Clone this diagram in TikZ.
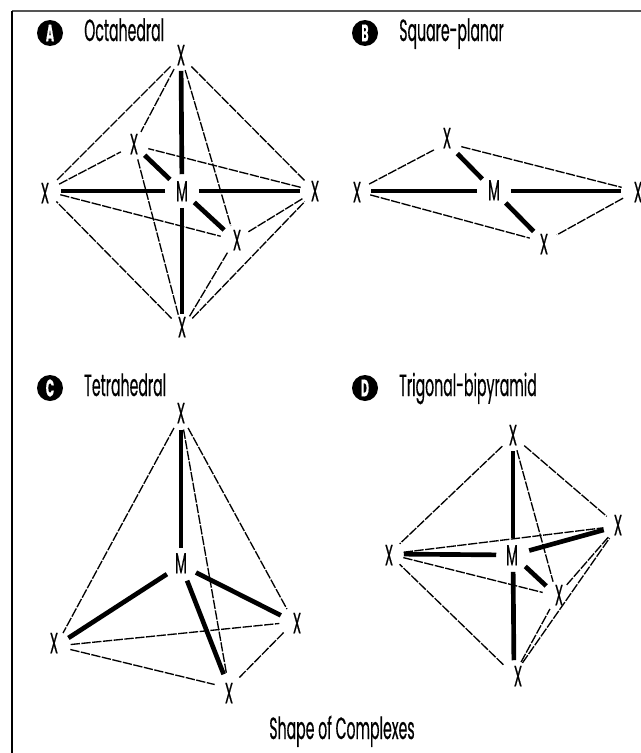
\documentclass[tikz,border=0pt]{standalone}
\usepackage{fontspec}
\setmainfont[FakeStretch=0.46,FakeBold=0.4]{Poppins}
\usepackage{xcolor}
\usetikzlibrary{positioning}
\definecolor{framegray}{RGB}{85,85,85}
\newlength\vunit
\setlength\vunit{0.75pt}
% label sits off the point where the lines meet (dx, dy in picture units)
\newcommand{\atom}[3]{\raisebox{\dimexpr-#3\vunit-6.3pt\relax}[0pt][0pt]{\makebox[0pt]{\hspace*{#2\vunit}\hspace*{#2\vunit}#1}}}
\tikzset{
  vertex/.style={circle, inner sep=0pt, minimum size=29\vunit},
  metal/.style={circle, inner sep=0pt, minimum size=33\vunit},
  bond/.style={line width=3.5pt},
  edge3d/.style={line width=1pt, dash pattern=on 7pt off 1.1pt},
  badge/.style={circle, fill=black, text=white, inner sep=0pt, minimum size=26\vunit, font=\fontsize{18}{18}\selectfont\bfseries},
  heading/.style={anchor=base west, inner sep=0pt, font=\fontsize{23}{24}\selectfont},
}
\begin{document}
\begin{tikzpicture}[x=0.75pt, y=-0.75pt, every node/.style={font=\fontsize{22}{24}\selectfont}]
  \useasboundingbox (0,0) rectangle (641,753);
  \draw[line width=1.5pt, framegray] (641,11) -- (12,11);
  \draw[line width=1.5pt] (12,11) -- (12,753);

  % A
  \node[badge] (badgeA) at (50,33) {A};
  \node[heading] (titleA) at (84,41) {Octahedral};
  \node[metal] (aM) at (182,191) {\atom{M}{0}{2}};
  \node[vertex] (aT) at (181,56) {\atom{X}{0}{1}};
  \node[vertex] (aL) at (46,191) {\atom{X}{-1}{4}};
  \node[vertex] (aR) at (315,191) {\atom{X}{0}{2}};
  \node[vertex] (aB) at (182,329) {\atom{X}{0}{0}};
  \node[vertex] (aK) at (134,145) {\atom{X}{0}{1}};
  \node[vertex] (aF) at (235,240) {\atom{X}{2}{2}};
  \draw[bond] (aM) -- (aT); \draw[bond] (aM) -- (aB); \draw[bond] (aM) -- (aL);
  \draw[bond] (aM) -- (aR); \draw[bond] (aM) -- (aK); \draw[bond] (aM) -- (aF);
  \draw[edge3d] (aT) -- (aL); \draw[edge3d] (aT) -- (aR); \draw[edge3d] (aT) -- (aK); \draw[edge3d] (aT) -- (aF);
  \draw[edge3d] (aB) -- (aL); \draw[edge3d] (aB) -- (aR); \draw[edge3d] (aB) -- (aK); \draw[edge3d] (aB) -- (aF);
  \draw[edge3d] (aL) -- (aK); \draw[edge3d] (aL) -- (aF); \draw[edge3d] (aR) -- (aK); \draw[edge3d] (aR) -- (aF);

  % B
  \node[badge] (badgeB) at (365,33) {B};
  \node[heading] (titleB) at (399,41) {Square-planar};
  \node[metal] (bM) at (494,191) {\atom{M}{0}{1}};
  \node[vertex] (bL) at (356,191) {\atom{X}{1}{3}};
  \node[vertex] (bR) at (636,191) {\atom{X}{2}{3}};
  \node[vertex] (bK) at (447,143) {\atom{X}{0}{-3}};
  \node[vertex] (bF) at (544,242) {\atom{X}{0}{4}};
  \draw[bond] (bM) -- (bL); \draw[bond] (bM) -- (bR); \draw[bond] (bM) -- (bK); \draw[bond] (bM) -- (bF);
  \draw[edge3d] (bL) -- (bK); \draw[edge3d] (bK) -- (bR); \draw[edge3d] (bR) -- (bF); \draw[edge3d] (bL) -- (bF);

  % C
  \node[badge] (badgeC) at (50,388) {C};
  \node[heading] (titleC) at (84,396) {Tetrahedral};
  \node[metal] (cM) at (181,565) {\atom{M}{0}{0}};
  \node[vertex] (cT) at (181,415) {\atom{X}{0}{0}};
  \node[vertex] (cL) at (56,646) {\atom{X}{-2}{-1}};
  \node[vertex] (cR) at (294,622) {\atom{X}{3}{3}};
  \node[vertex] (cF) at (229,688) {\atom{X}{0}{7}};
  \draw[bond] (cM) -- (cT); \draw[bond] (cM) -- (cL); \draw[bond] (cM) -- (cR); \draw[bond] (cM) -- (cF);
  \draw[edge3d] (cT) -- (cL); \draw[edge3d] (cT) -- (cR); \draw[edge3d] (cT) -- (cF);
  \draw[edge3d] (cL) -- (cR); \draw[edge3d] (cL) -- (cF); \draw[edge3d] (cR) -- (cF);

  % D
  \node[badge] (badgeD) at (365,388) {D};
  \node[heading] (titleD) at (399,396) {Trigonal-bipyramid};
  \node[metal] (dM) at (513,555) {\atom{M}{-1}{2}};
  \node[vertex] (dT) at (513,436) {\atom{X}{0}{1}};
  \node[vertex] (dB) at (514,675) {\atom{X}{4}{3}};
  \node[vertex] (dL) at (389,554) {\atom{X}{0}{3}};
  \node[vertex] (dR) at (618,526) {\atom{X}{0}{1}};
  \node[vertex] (dF) at (557,596) {\atom{X}{2}{1}};
  \draw[bond] (dM) -- (dT); \draw[bond] (dM) -- (dB); \draw[bond] (dM) -- (dL); \draw[bond] (dM) -- (dR); \draw[bond] (dM) -- (dF);
  \draw[edge3d] (dT) -- (dL); \draw[edge3d] (dT) -- (dR); \draw[edge3d] (dT) -- (dF);
  \draw[edge3d] (dB) -- (dL); \draw[edge3d] (dB) -- (dR); \draw[edge3d] (dB) -- (dF);
  \draw[edge3d] (dL) -- (dR); \draw[edge3d] (dL) -- (dF); \draw[edge3d] (dR) -- (dF);

  \node[heading, anchor=base] (caption) at (342,739) {Shape of Complexes};
\end{tikzpicture}
\end{document}
